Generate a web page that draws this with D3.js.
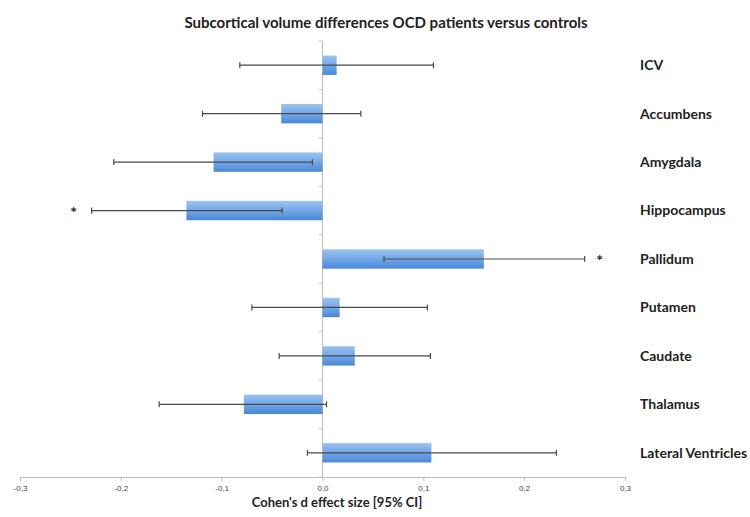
<!DOCTYPE html>
<html>
<head>
<meta charset="utf-8">
<script src="https://cdn.jsdelivr.net/npm/d3@7"></script>
<style>
  body { margin: 0; background: #fff; }
  svg { display: block; font-family: Lato, "Open Sans", sans-serif; }
</style>
</head>
<body>
<div id="chart"></div>
<script>
// data
const regions = ['ICV', 'Accumbens', 'Amygdala', 'Hippocampus', 'Pallidum', 'Putamen', 'Caudate', 'Thalamus', 'Lateral Ventricles'];
const effect = [0.014, -0.041, -0.108, -0.135, 0.160, 0.017, 0.032, -0.078, 0.108];
const ciLow = [-0.082, -0.119, -0.207, -0.229, 0.061, -0.070, -0.043, -0.162, -0.015];
const ciHigh = [0.110, 0.038, -0.010, -0.040, 0.260, 0.104, 0.107, 0.004, 0.232];
const significant = [false, false, false, true, true, false, false, false, false];
const xTicks = [-0.3, -0.2, -0.1, 0, 0.1, 0.2, 0.3];

const W = 750, H = 517;
const TOP = 41, BOTTOM = 477, LEFT = 20, RIGHT = 625;

const svg = d3.select('#chart').append('svg')
  .attr('width', W)
  .attr('height', H);

const x = d3.scaleLinear().domain([-0.3, 0.3]).range([LEFT, RIGHT]);
const y = d3.scaleBand().domain(regions).range([TOP, BOTTOM])
  .paddingInner(0.6).paddingOuter(0.3);

// bar gradient, lighter on top
const grad = svg.append('defs').append('linearGradient')
  .attr('id', 'barFill')
  .attr('x1', 0).attr('y1', 0).attr('x2', 0).attr('y2', 1);
grad.append('stop').attr('offset', '0%').attr('stop-color', '#9cc3f0');
grad.append('stop').attr('offset', '55%').attr('stop-color', '#6ea4e6');
grad.append('stop').attr('offset', '100%').attr('stop-color', '#4a87d6');

const rows = regions.map((r, i) => ({
  name: r, d: effect[i], lo: ciLow[i], hi: ciHigh[i], sig: significant[i]
}));

// bottom axis
const xAxis = svg.append('g')
  .attr('transform', `translate(0, ${BOTTOM})`)
  .call(d3.axisBottom(x).tickValues(xTicks).tickSizeOuter(0).tickSize(4)
    .tickFormat(d => d3.format('.1f')(d).replace('.', ',').replace('−', '-')));
xAxis.select('.domain').attr('stroke', '#bbb');
xAxis.selectAll('.tick line').attr('stroke', '#bbb');
xAxis.selectAll('.tick text')
  .attr('fill', '#444')
  .attr('font-size', 8)
  .attr('dy', '0.9em');

// vertical zero axis with category ticks
svg.append('line')
  .attr('x1', x(0)).attr('x2', x(0))
  .attr('y1', TOP).attr('y2', BOTTOM)
  .attr('stroke', '#bbb');
svg.append('g').selectAll('line')
  .data(d3.range(regions.length + 1))
  .join('line')
  .attr('x1', x(0) - 4).attr('x2', x(0))
  .attr('y1', i => TOP + i * y.step())
  .attr('y2', i => TOP + i * y.step())
  .attr('stroke', '#ccc');

// bars
svg.append('g').selectAll('rect')
  .data(rows)
  .join('rect')
  .attr('x', d => x(Math.min(0, d.d)))
  .attr('width', d => Math.abs(x(d.d) - x(0)))
  .attr('y', d => y(d.name))
  .attr('height', y.bandwidth())
  .attr('fill', 'url(#barFill)');

// error bars
const err = svg.append('g')
  .attr('stroke', '#4a4a4a')
  .attr('stroke-width', 1.2);
const cy = d => y(d.name) + y.bandwidth() / 2;
err.selectAll('line.ci')
  .data(rows)
  .join('line')
  .attr('class', 'ci')
  .attr('x1', d => x(d.lo)).attr('x2', d => x(d.hi))
  .attr('y1', cy).attr('y2', cy);
err.selectAll('line.capl')
  .data(rows)
  .join('line')
  .attr('class', 'capl')
  .attr('x1', d => x(d.lo)).attr('x2', d => x(d.lo))
  .attr('y1', d => cy(d) - 3).attr('y2', d => cy(d) + 3);
err.selectAll('line.caph')
  .data(rows)
  .join('line')
  .attr('class', 'caph')
  .attr('x1', d => x(d.hi)).attr('x2', d => x(d.hi))
  .attr('y1', d => cy(d) - 3).attr('y2', d => cy(d) + 3);

// significance stars
svg.append('g').selectAll('text')
  .data(rows.filter(d => d.sig))
  .join('text')
  .attr('x', d => d.d < 0 ? x(d.lo) - 18 : x(d.hi) + 15)
  .attr('y', d => cy(d) + 7)
  .attr('text-anchor', 'middle')
  .attr('font-size', 16)
  .attr('font-weight', 'bold')
  .attr('fill', '#222')
  .text('*');

// region labels on the right
svg.append('g').selectAll('text')
  .data(rows)
  .join('text')
  .attr('x', 640)
  .attr('y', d => cy(d))
  .attr('dy', '0.35em')
  .attr('font-size', 14)
  .attr('font-weight', 'bold')
  .attr('fill', '#222')
  .text(d => d.name);

// title and axis title
svg.append('text')
  .attr('x', 386).attr('y', 28)
  .attr('text-anchor', 'middle')
  .attr('font-size', 15)
  .attr('font-weight', 'bold')
  .attr('fill', '#222')
  .text('Subcortical volume differences OCD patients versus controls');

svg.append('text')
  .attr('x', 337).attr('y', 507)
  .attr('text-anchor', 'middle')
  .attr('font-size', 13)
  .attr('font-weight', 'bold')
  .attr('fill', '#222')
  .text("Cohen's d effect size [95% CI]");
</script>
</body>
</html>
